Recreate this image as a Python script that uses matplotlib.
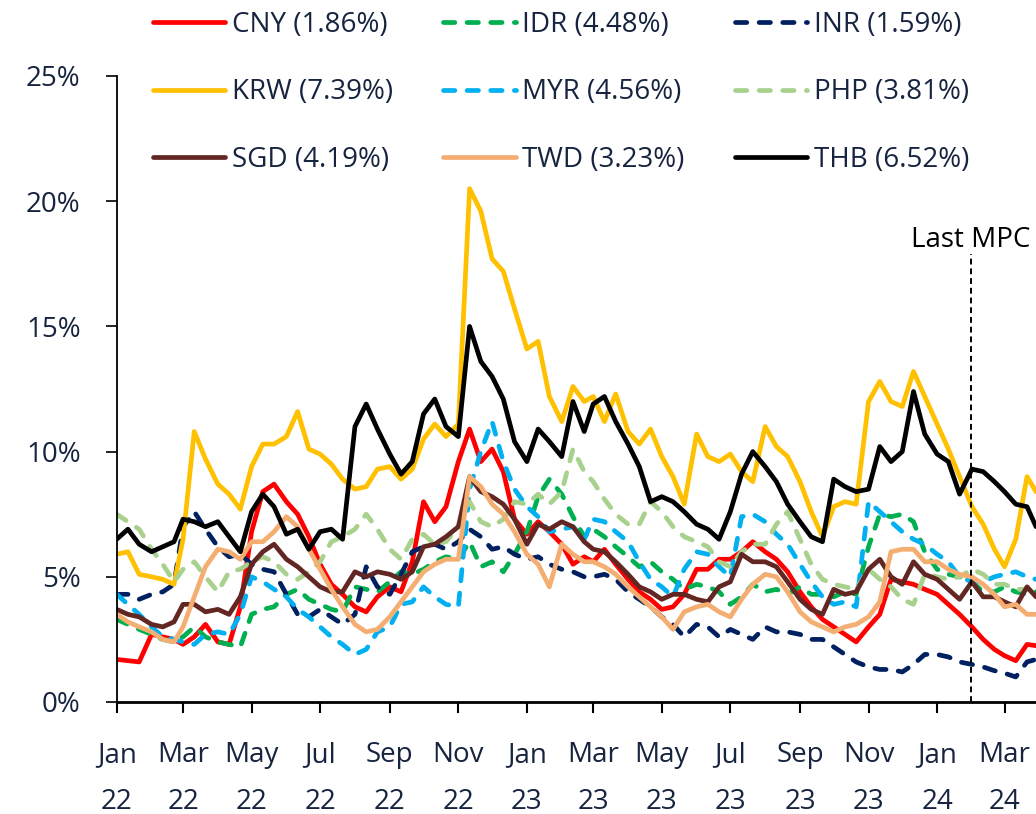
import matplotlib
matplotlib.use('Agg')
import matplotlib.pyplot as plt
import matplotlib.dates as mdates
import matplotlib.ticker as mticker
import pandas as pd

plt.rcParams['font.family'] = ['Open Sans', 'DejaVu Sans']

# sampling dates (1st, 11th, 21st of each month) + last observation
dates = pd.to_datetime(
    [f'{y}-{m:02d}-{d:02d}' for y in (2022, 2023, 2024) for m in range(1, 13)
     for d in (1, 11, 21) if (y, m) <= (2024, 3)] + ['2024-03-29'])

cny = [1.7, 1.65, 1.6, 2.7, 2.6, 2.5, 2.3, 2.6, 3.1, 2.4, 2.3, 3.8,
       6.8, 8.4, 8.7, 8.0, 7.5, 6.6, 5.5, 4.7, 4.3, 3.8, 3.6, 4.2,
       4.6, 4.4, 5.6, 8.0, 7.2, 7.8, 9.6, 10.9, 9.6, 10.1, 9.2, 7.3,
       6.7, 7.2, 6.8, 6.3, 5.5, 5.8, 5.6, 6.1, 5.5, 4.9, 4.4, 4.1,
       3.7, 3.8, 4.3, 5.3, 5.3, 5.7, 5.7, 6.0, 6.4, 6.0, 5.7, 5.2,
       4.4, 3.8, 3.3, 3.0, 2.7, 2.4, 3.0, 3.5, 4.9, 4.8, 4.7, 4.5,
       4.3, 3.9, 3.5, 3.0, 2.5, 2.1, 1.85, 1.65, 2.3, 2.25]
idr = [3.3, 3.1, 2.9, 2.7, 2.5, 2.4, 2.6, 3.0, 2.6, 2.4, 2.3, 2.2,
       3.5, 3.7, 3.8, 4.3, 4.5, 4.1, 3.9, 3.7, 3.6, 4.6, 4.5, 4.4,
       4.8, 5.2, 5.1, 5.3, 5.6, 5.8, 5.7, 6.4, 5.4, 5.6, 5.2, 5.9,
       6.8, 8.2, 8.9, 8.3, 7.4, 6.6, 6.9, 6.6, 6.2, 5.8, 5.4, 5.6,
       5.2, 4.9, 4.5, 4.7, 4.6, 4.4, 3.9, 4.2, 4.7, 4.4, 4.5, 4.3,
       4.6, 4.3, 4.3, 4.2, 4.4, 4.3, 6.2, 7.5, 7.4, 7.5, 7.2, 6.0,
       5.3, 5.1, 5.0, 4.8, 4.4, 4.4, 4.6, 4.4, 4.3, 4.4]
inr = [4.3, 4.3, 4.1, 4.3, 4.4, 4.7, 7.0, 7.6, 6.9, 6.2, 5.8, 5.9,
       5.5, 5.3, 5.2, 4.3, 3.5, 3.4, 3.7, 3.4, 3.1, 3.5, 5.4, 4.6,
       4.3, 5.1, 6.0, 6.2, 6.3, 6.1, 6.4, 6.9, 6.6, 6.1, 6.2, 5.9,
       5.7, 5.8, 5.5, 5.3, 5.2, 5.0, 5.0, 5.1, 4.9, 4.4, 4.1, 3.8,
       3.4, 3.1, 2.6, 3.1, 3.0, 2.6, 2.9, 2.7, 2.5, 3.0, 2.8, 2.8,
       2.7, 2.5, 2.5, 2.2, 1.9, 1.6, 1.4, 1.3, 1.3, 1.2, 1.5, 1.9,
       1.9, 1.8, 1.6, 1.5, 1.4, 1.25, 1.15, 1.0, 1.6, 1.7]
krw = [5.9, 6.0, 5.1, 5.0, 4.9, 4.7, 6.5, 10.8, 9.7, 8.7, 8.3, 7.7,
       9.4, 10.3, 10.3, 10.6, 11.6, 10.1, 9.9, 9.5, 8.9, 8.5, 8.6, 9.3,
       9.4, 8.9, 9.3, 10.5, 11.1, 10.6, 11.1, 20.5, 19.6, 17.7, 17.2, 15.7,
       14.1, 14.4, 12.2, 11.2, 12.6, 12.0, 12.2, 11.2, 12.3, 10.8, 10.3, 10.9,
       9.8, 9.0, 7.9, 10.7, 9.8, 9.6, 9.9, 9.2, 8.8, 11.0, 10.2, 9.8,
       8.8, 7.6, 6.6, 7.8, 8.0, 7.9, 12.0, 12.8, 12.0, 11.8, 13.2, 12.2,
       11.1, 10.1, 9.0, 7.8, 7.1, 6.1, 5.4, 6.5, 9.0, 8.4]
myr = [4.3, 3.9, 3.5, 3.0, 2.6, 2.5, 2.4, 2.3, 2.7, 2.8, 2.7, 3.5,
       5.0, 4.8, 4.5, 4.2, 3.7, 3.4, 3.0, 2.6, 2.3, 1.9, 2.1, 2.8,
       3.0, 3.9, 4.0, 4.6, 4.2, 3.9, 3.8, 8.5, 10.0, 11.2, 9.6, 8.5,
       7.8, 7.4, 6.8, 6.9, 7.0, 6.5, 7.3, 7.2, 6.8, 6.4, 5.6, 4.9,
       4.6, 4.2, 5.3, 6.0, 5.9, 5.4, 5.0, 7.4, 7.5, 7.2, 6.7, 6.3,
       5.5, 4.8, 4.2, 3.9, 4.0, 3.8, 8.0, 7.6, 7.2, 6.8, 6.5, 6.3,
       5.9, 5.6, 5.0, 4.8, 4.8, 5.0, 5.1, 5.2, 5.0, 4.9]
php = [7.5, 7.2, 6.9, 6.1, 5.5, 4.8, 5.3, 5.6, 5.0, 4.4, 5.2, 5.3,
       5.6, 5.8, 5.6, 5.1, 4.9, 5.2, 5.6, 6.4, 6.6, 6.9, 7.5, 6.9,
       6.1, 5.7, 6.5, 6.7, 6.3, 6.4, 7.0, 8.0, 7.2, 7.0, 7.3, 8.0,
       7.9, 8.3, 7.9, 8.4, 10.1, 9.2, 8.8, 8.1, 7.5, 7.1, 7.1, 8.0,
       7.6, 7.0, 6.6, 6.4, 6.2, 5.6, 5.4, 6.0, 6.3, 6.3, 7.1, 7.6,
       6.5, 5.5, 4.9, 4.7, 4.6, 4.5, 5.3, 4.9, 4.6, 4.1, 3.9, 5.1,
       5.0, 4.9, 5.0, 5.3, 5.1, 4.7, 4.7, 4.5, 4.5, 4.4]
sgd = [3.7, 3.5, 3.4, 3.1, 3.0, 3.2, 3.9, 3.9, 3.6, 3.7, 3.5, 4.2,
       5.5, 6.0, 6.3, 5.7, 5.4, 5.0, 4.6, 4.4, 4.4, 5.2, 5.0, 5.2,
       5.1, 4.9, 5.2, 6.2, 6.3, 6.6, 7.0, 9.0, 8.4, 8.2, 7.9, 7.3,
       6.3, 7.1, 6.9, 7.2, 7.0, 6.4, 6.1, 6.0, 5.6, 5.1, 4.6, 4.4,
       4.1, 4.3, 4.3, 4.1, 4.0, 4.6, 4.8, 5.9, 5.6, 5.6, 5.4, 4.8,
       4.1, 3.7, 3.5, 4.5, 4.3, 4.4, 5.3, 5.7, 5.0, 4.7, 5.6, 5.1,
       4.9, 4.5, 4.1, 4.8, 4.2, 4.2, 4.0, 3.8, 4.6, 4.2]
twd = [3.5, 3.2, 3.0, 2.8, 2.5, 2.4, 3.0, 4.2, 5.4, 6.1, 6.0, 5.7,
       6.4, 6.4, 6.8, 7.4, 7.0, 6.1, 5.3, 4.5, 3.8, 3.1, 2.8, 2.9,
       3.4, 4.0, 4.6, 5.2, 5.5, 5.7, 5.7, 9.0, 8.6, 7.9, 7.5, 6.8,
       5.9, 5.5, 4.6, 6.3, 5.9, 5.6, 5.6, 5.4, 5.1, 4.6, 4.2, 3.8,
       3.4, 2.9, 3.6, 3.8, 3.9, 3.6, 3.4, 4.1, 4.7, 5.1, 5.0, 4.4,
       3.6, 3.2, 3.0, 2.8, 3.0, 3.1, 3.4, 4.0, 6.0, 6.1, 6.1, 5.6,
       5.6, 5.3, 5.1, 5.0, 4.7, 4.3, 3.8, 3.9, 3.5, 3.5]
thb = [6.5, 6.9, 6.3, 6.0, 6.2, 6.4, 7.3, 7.2, 7.0, 7.2, 6.6, 6.0,
       7.6, 8.3, 7.8, 6.7, 6.9, 6.1, 6.8, 6.9, 6.5, 11.0, 11.9, 10.9,
       9.9, 9.1, 9.6, 11.5, 12.1, 11.0, 10.6, 15.0, 13.6, 13.0, 12.1, 10.4,
       9.6, 10.9, 10.4, 9.8, 12.0, 10.8, 11.9, 12.2, 11.2, 10.3, 9.4, 8.0,
       8.2, 8.0, 7.6, 7.1, 6.9, 6.5, 7.6, 9.1, 10.0, 9.4, 8.8, 7.9,
       7.2, 6.6, 6.4, 8.9, 8.6, 8.4, 8.5, 10.2, 9.6, 10.0, 12.4, 10.7,
       9.9, 9.6, 8.3, 9.3, 9.2, 8.8, 8.4, 7.9, 7.8, 7.0]

labels = ['CNY (1.86%)', 'IDR (4.48%)', 'INR (1.59%)', 'KRW (7.39%)', 'MYR (4.56%)',
          'PHP (3.81%)', 'SGD (4.19%)', 'TWD (3.23%)', 'THB (6.52%)']
series = [cny, idr, inr, krw, myr, php, sgd, twd, thb]
colors = ['#FF0000', '#00B050', '#002060', '#FFC000', '#00B0F0',
          '#A9D18E', '#622623', '#F5AE72', '#000000']
dashed = [False, True, True, False, True, True, False, False, False]

mpc_date = pd.Timestamp('2024-01-31')
text_color = '#17243f'

W, H = 1036, 814
fig = plt.figure(figsize=(W / 100, H / 100), dpi=100)
ax = fig.add_axes([116.7 / W, 112 / H, 1 - 116.7 / W, 626 / H])

handles = []
for vals, lab, col, dsh in zip(series, labels, colors, dashed):
    if dsh:
        ln, = ax.plot(dates, vals, color=col, lw=3.4, ls=(0, (2.4, 2.6)),
                      dash_capstyle='round', label=lab)
    else:
        ln, = ax.plot(dates, vals, color=col, lw=3.4, solid_capstyle='round',
                      solid_joinstyle='round', label=lab)
    handles.append(ln)

ax.plot([mpc_date, mpc_date], [0, 17.9], color='black', lw=1.4, ls=(0, (3, 2)))
ax.text(mpc_date, 18.45, 'Last MPC', ha='center', va='center', fontsize=20, color='black')

ax.set_ylim(0, 25)
ax.set_xlim(pd.Timestamp('2022-01-01'), pd.Timestamp('2024-03-29'))
ax.yaxis.set_major_locator(mticker.MultipleLocator(5))
ax.yaxis.set_major_formatter(mticker.FuncFormatter(lambda v, p: f'{v:.0f}%'))
ax.xaxis.set_major_locator(mdates.MonthLocator(bymonth=[1, 3, 5, 7, 9, 11]))
ax.xaxis.set_major_formatter(mticker.FuncFormatter(
    lambda v, p: mdates.num2date(v).strftime('%b\n%y')))

for s in ('top', 'right'):
    ax.spines[s].set_visible(False)
ax.spines['left'].set_linewidth(1.3)
ax.spines['bottom'].set_linewidth(2.0)
ax.spines['bottom'].set_capstyle('butt')

ax.tick_params(axis='y', direction='out', length=8, width=1.2, pad=18,
               labelsize=20, labelcolor=text_color)
ax.tick_params(axis='x', direction='out', length=8, width=1.5, pad=20,
               labelsize=20, labelcolor=text_color)
for lbl in ax.get_xticklabels():
    lbl.set_linespacing(1.9)

# legend filled row by row: reorder for matplotlib's column-wise filling
order = [0, 3, 6, 1, 4, 7, 2, 5, 8]
leg = ax.legend([handles[i] for i in order], [labels[i] for i in order],
                ncol=3, loc='upper left', bbox_to_anchor=(153 / W, 1 - 11 / H),
                bbox_transform=fig.transFigure, frameon=False, fontsize=20,
                handlelength=2.6, handletextpad=0.25, columnspacing=1.8,
                labelspacing=1.42, borderpad=0, borderaxespad=0)
for t in leg.get_texts():
    t.set_color(text_color)

fig.savefig('out.png', dpi=100)
